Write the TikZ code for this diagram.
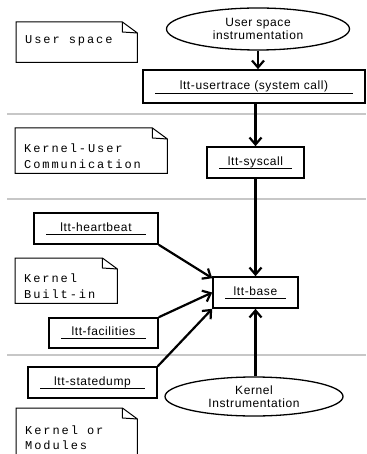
\documentclass[tikz,border=0pt]{standalone}
\usepackage{fontspec}
\setmainfont[LetterSpace=5]{Liberation Sans}
\newfontfamily\memofont[LetterSpace=16]{Liberation Mono}
\usetikzlibrary{arrows.meta,positioning,shapes.geometric}

\begin{document}
\begin{tikzpicture}[
    x=1pt, y=-1pt,
    >={Straight Barb[length=7pt,width=12pt]},
    font=\fontsize{12}{13}\selectfont,
    obj/.style={
		rectangle,
		draw=black,
		line width=1.6pt,
		text depth=3pt,
		inner sep=0pt,
		fill=white
	},
    usecase/.style={
		ellipse,
		draw=black,
		line width=1.3pt,
		align=center,
		inner sep=0pt,
		fill=white
	},
    memo/.style={
		font=\memofont\fontsize{12}{15.5}\selectfont,
		execute at begin node={\spaceskip=9.1pt\relax},
		align=left,
		inner xsep=9pt,
		inner ysep=0pt,
		text depth=5pt
	},
    flow/.style={
		->,
		line width=2.2pt
	},
    layer/.style={
		draw=black!22,
		line width=2pt
	}
  ]
  \useasboundingbox (0,0) rectangle (366,454);
  \clip (0,0) rectangle (366,454);

  % layer separators
  \draw [layer] (7,114) -- (366,114);
  \draw [layer] (7,199) -- (366,199);
  \draw [layer] (7,355) -- (366,355);

  % notes on the left
  \node [memo, anchor=north west, text width=103pt, minimum height=40pt] (usnote) at (16,22) {User space};
  \node [memo, anchor=north west, text width=134pt, minimum height=45pt] (kucnote) at (15,128) {Kernel-User\\Communication};
  \node [memo, anchor=north west, text width=84pt, minimum height=45pt] (kbinote) at (15,258) {Kernel\\Built-in};
  \node [memo, anchor=north west, text width=103pt, minimum height=48pt] (komnote) at (16,408) {Kernel or\\Modules};

  \foreach \n in {usnote,kucnote,kbinote,komnote}
    \draw [line width=1pt] (\n.north west) -- ([xshift=-15pt]\n.north east)
      -- ([yshift=-11pt]\n.north east) -- (\n.south east) -- (\n.south west) -- cycle
      ([xshift=-15pt]\n.north east) -- ([xshift=-15pt,yshift=-10pt]\n.north east)
      -- ([yshift=-11pt]\n.north east);

  % the blocks
  \node [usecase, minimum width=183pt, minimum height=42pt] (ueins) at (258,29) {User space\\instrumentation};
  \node [obj, minimum width=222pt, minimum height=33pt] (usertrace) at (254,86.5) {ltt-usertrace (system call)};
  \node [obj, minimum width=97pt, minimum height=31pt] (syscall) at (255.5,162.5) {ltt-syscall};
  \node [obj, minimum width=124pt, minimum height=31pt] (heartbeat) at (96,228.5) {ltt-heartbeat};
  \node [obj, minimum width=85pt, minimum height=31pt] (base) at (255.5,292.5) {ltt-base};
  \node [obj, minimum width=109pt, minimum height=30pt] (facilities) at (103.5,333) {ltt-facilities};
  \node [obj, minimum width=129pt, minimum height=31pt] (statedump) at (92.5,382.5) {ltt-statedump};
  \node [usecase, minimum width=178pt, minimum height=39pt] (kins) at (254,396.5) {Kernel\\Instrumentation};

  \foreach \n in {usertrace,syscall,heartbeat,base,facilities,statedump}
    \draw [line width=1pt] ([xshift=13pt,yshift=10pt]\n.south west) -- ([xshift=-13pt,yshift=10pt]\n.south east);

  % arrows
  \draw [flow] (ueins.south) -- (ueins.south |- usertrace.north);
  \draw [flow] (usertrace.south -| syscall.north) -- (syscall.north);
  \draw [flow] (syscall.south) -- (base.north);
  \draw [flow] (kins.north -| base.south) -- (base.south);
  \draw [flow] (heartbeat.south east) -- ([yshift=-2pt]base.north west);
  \draw [flow] (facilities.north east) -- (base.west);
  \draw [flow] (statedump.north east) -- (base.south west);

\end{tikzpicture}
\end{document}
